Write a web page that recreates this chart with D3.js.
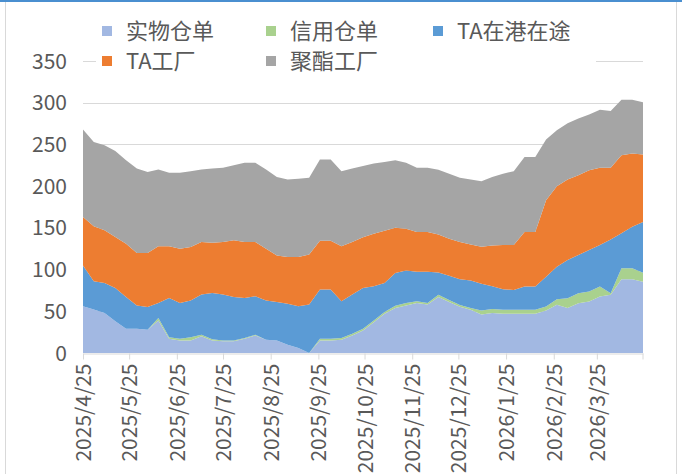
<!DOCTYPE html>
<html>
<head>
<meta charset="utf-8">
<script src="https://cdn.jsdelivr.net/npm/d3@7"></script>
<style>
  html, body { margin: 0; padding: 0; background: #fff; }
  svg { display: block; }
  text { font-family: "Noto Sans CJK SC", "Noto Sans", sans-serif; fill: #595959; }
</style>
</head>
<body>
<svg id="chart" width="682" height="474"></svg>
<script>
// Weekly stock series (万吨), stacked from bottom to top
const startDate = "2025-04-25";
const seriesNames = ["实物仓单", "信用仓单", "TA在港在途", "TA工厂", "聚酯工厂"];
const seriesColors = ["#a2b8e2", "#a9d18e", "#5b9bd5", "#ed7d31", "#a5a5a5"];

const warehouseReceipts = [56,52,48,38,29,29,28,39,17,15,15,20,15,14,14,17,21,16,15,10,6,0,15,15,16,21,27,37,47,54,57,60,58,67,61,55.5,51.7,46,48,47,47,47,47,51,57.7,53.8,59.7,61.6,67.6,69.7,88.4,88.4,85.5];
const creditReceipts    = [0,0,0,0,0,0,0,3,2,2,4,2,1.5,1,1,1,1,0,0,0,0,0,2,2,2,2,2,2,2,2.5,3,2,2,2.7,2.5,2.1,2.3,5,4.6,4.7,4.7,4.7,4.7,4.7,6.8,11.9,12,12,12,2,13.1,13.1,10.8];
const portTransit       = [49,34,36,40,38,28,27,18,47,43,44,48,55.5,55,52,48,46,47,46,49,50,58,59,59,44,47,49,41,35,39.5,39,35.5,37.5,26.8,29,30.8,33,32,27.4,24.8,23.9,27.9,27.9,35.8,39,45.8,45.7,49.8,49.8,64.3,41.9,49.8,60.7];
const taFactory         = [58,66,63,61,64,63,65,68,62,65,64,63,60,63,68,67,65,62,56,56,59,60,58.5,58.5,66,63,60.6,63,62.5,54,50,47.5,47.5,45.5,44.5,44.6,43,44.4,49,52.9,53.8,65.4,65.4,91.5,96.5,96.5,95.6,95.6,92.6,86,93.6,87.7,81];
const polyesterFactory  = [105,101,102,103,100,101,97,92,88,91,91,87,89,89,90,95,95,95,94,93,94,92,97.5,97.5,90,88,85.4,84,82.5,81,79,77,77,77.5,78,77,78,78.6,82,85.6,88.6,90,90,73,67,67.5,68,67,69.5,68,66.5,64.5,62.6];

const yTicks = [0, 50, 100, 150, 200, 250, 300, 350];
const xTickLabels = ["2025/4/25","2025/5/25","2025/6/25","2025/7/25","2025/8/25","2025/9/25",
                     "2025/10/25","2025/11/25","2025/12/25","2026/1/25","2026/2/25","2026/3/25"];

const parseDate = d3.timeParse("%Y-%m-%d");
const parseLabel = d3.timeParse("%Y/%m/%d");
const t0 = parseDate(startDate);
const dates = warehouseReceipts.map((_, i) => d3.timeDay.offset(t0, 7 * i));

const rows = dates.map((d, i) => ({
  date: d,
  "实物仓单": warehouseReceipts[i],
  "信用仓单": creditReceipts[i],
  "TA在港在途": portTransit[i],
  "TA工厂": taFactory[i],
  "聚酯工厂": polyesterFactory[i]
}));

const svg = d3.select("#chart");
const plot = { left: 83, right: 643, top: 61, bottom: 353 };

const x = d3.scaleTime().domain(d3.extent(dates)).range([plot.left, plot.right]);
const y = d3.scaleLinear().domain([0, 350]).range([plot.bottom, plot.top]);
const color = d3.scaleOrdinal().domain(seriesNames).range(seriesColors);

// Outer frame
svg.append("rect").attr("x", 5.5).attr("y", 1.5).attr("width", 671).attr("height", 480)
  .attr("fill", "none").attr("stroke", "#d9d9d9");
svg.append("line").attr("x1", 0).attr("x2", 682).attr("y1", 1).attr("y2", 1)
  .attr("stroke", "#4a8fd0").attr("stroke-width", 2);

// Horizontal gridlines
svg.append("g").selectAll("line").data(yTicks.filter(v => v > 0)).join("line")
  .attr("x1", plot.left).attr("x2", plot.right)
  .attr("y1", d => Math.round(y(d)) + 0.5).attr("y2", d => Math.round(y(d)) + 0.5)
  .attr("stroke", "#d9d9d9").attr("stroke-width", 1);

// Stacked areas
const stack = d3.stack().keys(seriesNames);
const layers = stack(rows);
const area = d3.area()
  .x(d => x(d.data.date))
  .y0(d => y(d[0]))
  .y1(d => y(d[1]));

svg.append("g").selectAll("path").data(layers).join("path")
  .attr("d", area)
  .attr("fill", d => color(d.key));

// Y axis labels
svg.append("g").selectAll("text").data(yTicks).join("text")
  .attr("x", 67).attr("y", d => y(d))
  .attr("dy", "0.36em")
  .attr("text-anchor", "end")
  .attr("font-size", 21)
  .text(d => d);

// X axis
const tickDates = xTickLabels.map(parseLabel);
const xAxis = d3.axisBottom(x)
  .tickValues(tickDates)
  .tickFormat(d3.timeFormat("%Y/%-m/%-d"))
  .tickSizeInner(6).tickSizeOuter(0).tickPadding(6);

const gx = svg.append("g").attr("transform", `translate(0,${plot.bottom + 0.5})`).call(xAxis);
gx.select(".domain").attr("stroke", "#d9d9d9");
gx.selectAll(".tick line").attr("stroke", "#d9d9d9");
gx.selectAll(".tick text")
  .attr("font-size", 21)
  .attr("fill", "#595959")
  .attr("font-family", "\"Noto Sans CJK SC\", sans-serif")
  .attr("transform", "rotate(-90)")
  .attr("text-anchor", "end")
  .attr("x", -10).attr("y", 0).attr("dy", "0.36em");
// closing tick at the end of the axis
gx.append("line").attr("x1", x.range()[1]).attr("x2", x.range()[1])
  .attr("y1", 0).attr("y2", 6).attr("stroke", "#d9d9d9");

// Legend
const legend = svg.append("g");
legend.append("rect").attr("x", 96).attr("y", 16).attr("width", 500).attr("height", 58).attr("fill", "#fff");
const legendPos = [[102, 31], [266, 31], [433, 31], [102, 61], [266, 61]];
const items = legend.selectAll("g").data(seriesNames).join("g")
  .attr("transform", (d, i) => `translate(${legendPos[i][0]},${legendPos[i][1]})`);
items.append("rect").attr("x", 0).attr("y", -5).attr("width", 10).attr("height", 10)
  .attr("fill", d => color(d));
items.append("text").attr("x", 24).attr("y", 0).attr("dy", "0.36em")
  .attr("font-size", 22).text(d => d);
</script>
</body>
</html>
